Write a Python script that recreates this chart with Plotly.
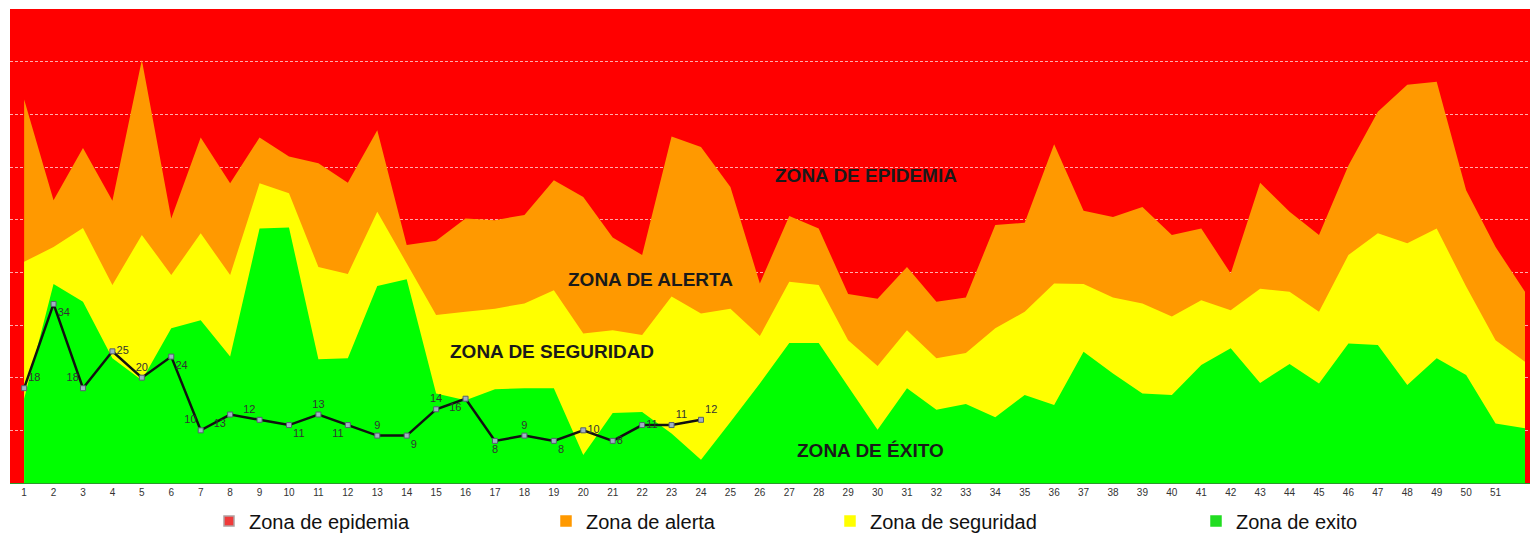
import plotly.graph_objects as go

weeks = list(range(1, 53))
week_labels = [str(w) for w in weeks]

zona_alerta = [72.8, 53.7, 63.6, 53.6, 80.3, 50.2, 65.6, 56.9, 65.6, 62.0,
               60.7, 57.0, 67.0, 45.2, 46.0, 50.2, 49.9, 50.9, 57.5, 54.3,
               46.6, 43.3, 65.8, 63.8, 56.2, 37.9, 50.7, 48.3, 35.9, 35.0,
               41.0, 34.4, 35.2, 49.0, 49.4, 64.3, 51.7, 50.5, 52.4, 47.1,
               48.3, 39.8, 57.0, 51.5, 47.1, 60.3, 70.5, 75.6, 76.2, 55.6,
               44.8, 36.3]

zona_seguridad = [42.0, 44.8, 48.4, 37.6, 47.1, 39.5, 47.4, 39.5, 56.9, 55.0,
                  41.0, 39.7, 51.5, 41.7, 31.9, 32.5, 33.1, 34.1, 36.6, 28.4,
                  29.0, 28.1, 35.4, 32.2, 33.1, 27.9, 38.2, 37.6, 27.1, 22.2,
                  29.0, 23.7, 24.7, 29.4, 32.5, 37.9, 37.8, 35.2, 34.1, 31.6,
                  34.7, 32.8, 36.9, 36.3, 32.5, 43.3, 47.4, 45.5, 48.3, 37.3,
                  27.1, 23.0]

zona_exito = [16.0, 37.8, 34.4, 23.7, 19.5, 29.4, 30.9, 24.0, 48.3, 48.5,
              23.5, 23.7, 37.4, 38.7, 17.0, 15.7, 17.8, 18.0, 18.0, 5.3,
              13.3, 13.5, 9.4, 4.4, 11.6, 18.9, 26.6, 26.6, 18.3, 10.1,
              18.0, 13.9, 15.0, 12.5, 16.7, 14.8, 24.9, 20.8, 17.0, 16.7,
              22.4, 25.6, 19.0, 22.6, 18.9, 26.5, 26.2, 18.6, 23.7, 20.5,
              11.3, 10.4]

casos_weeks = list(range(1, 25))
casos = [18, 34, 18, 25, 20, 24, 10, 13, 12, 11, 13, 11, 9, 9, 14, 16,
         8, 9, 8, 10, 8, 11, 11, 12]

y_max = 90

label_pos = ["top right", "bottom right", "top left", "middle right", "top center",
             "bottom right", "top left", "bottom left", "top left", "bottom right",
             "top center", "bottom left", "top center", "bottom right", "top center",
             "bottom left", "bottom center", "top center", "bottom right", "middle right",
             "middle right", "middle right", "top right", "top right"]

RED = "#FF0000"
ORANGE = "#FF9900"
YELLOW = "#FFFF00"
GREEN = "#00FF00"

fig = go.Figure()

fig.add_trace(go.Scatter(x=weeks, y=zona_alerta, mode="lines",
                         line=dict(width=0, color=ORANGE), fill="tozeroy",
                         fillcolor=ORANGE, showlegend=False, name="Zona de alerta"))
fig.add_trace(go.Scatter(x=weeks, y=zona_seguridad, mode="lines",
                         line=dict(width=0, color=YELLOW), fill="tozeroy",
                         fillcolor=YELLOW, showlegend=False, name="Zona de seguridad"))
fig.add_trace(go.Scatter(x=weeks, y=zona_exito, mode="lines",
                         line=dict(width=0, color=GREEN), fill="tozeroy",
                         fillcolor=GREEN, showlegend=False, name="Zona de exito"))

fig.add_trace(go.Scatter(x=casos_weeks, y=casos, mode="lines+markers+text",
                         line=dict(color="#111111", width=2.5),
                         marker=dict(symbol="square", size=5, color="#9fb0c4",
                                     line=dict(color="#55606c", width=1)),
                         text=[str(v) for v in casos], textposition=label_pos,
                         textfont=dict(family="Liberation Sans, Arial", size=11, color="#333333"),
                         showlegend=False, name="Casos"))

# legend entries
legend_items = [("Zona de epidemia", "#F03A3A", "#B0A0A0", "legend"),
                ("Zona de alerta", ORANGE, ORANGE, "legend2"),
                ("Zona de seguridad", YELLOW, YELLOW, "legend3"),
                ("Zona de exito", "#22DD22", "#22DD22", "legend4")]
for name, col, lcol, lg in legend_items:
    fig.add_trace(go.Scatter(x=[None], y=[None], mode="markers", name=name,
                             marker=dict(symbol="square", size=10, color=col,
                                         line=dict(color=lcol, width=1.5)),
                             legend=lg, showlegend=True))

# zone labels
ann_font = dict(family="Liberation Sans, Arial", size=19, color="#1a1a1a")
zone_texts = [("<b>ZONA DE EPIDEMIA</b>", 29.6, 58.4),
              ("<b>ZONA DE ALERTA</b>", 22.27, 38.7),
              ("<b>ZONA DE SEGURIDAD</b>", 18.94, 24.9),
              ("<b>ZONA DE ÉXITO</b>", 29.75, 6.1)]
for t, xx, yy in zone_texts:
    fig.add_annotation(x=xx, y=yy, text=t, showarrow=False, font=ann_font,
                       xanchor="center", yanchor="middle")

L, R, T, B = 10, 0, 9, 72
W, H = 1530, 555
plot_w = W - L - R
plot_h = H - T - B

def lx(px):
    return (px - L) / plot_w

leg_y = ((H - B) - 521) / plot_h
leg_common = dict(orientation="h", yanchor="middle", y=leg_y, xanchor="left",
                  bgcolor="rgba(0,0,0,0)", borderwidth=0,
                  font=dict(family="Liberation Sans, Arial", size=20, color="#111111"))

fig.update_layout(
    width=W, height=H,
    margin=dict(l=L, r=R, t=T, b=B, pad=0, autoexpand=False),
    paper_bgcolor="white",
    plot_bgcolor=RED,
    legend=dict(x=lx(209), **leg_common),
    legend2=dict(x=lx(546), **leg_common),
    legend3=dict(x=lx(830), **leg_common),
    legend4=dict(x=lx(1196), **leg_common),
    xaxis=dict(range=[0.52, 52.17], tickvals=weeks, ticktext=week_labels,
               tickfont=dict(family="Liberation Sans Narrow, Liberation Sans, Arial", size=10, color="#333333"),
               showgrid=False, zeroline=False, showline=True, linecolor="#2c9a2c",
               linewidth=1, ticks="", fixedrange=True, automargin=False),
    yaxis=dict(range=[0, y_max], dtick=10, showticklabels=False, showgrid=True,
               gridcolor="rgba(255,215,215,0.8)", griddash="3px,2px", gridwidth=1,
               zeroline=False, showline=False, fixedrange=True, automargin=False),
    showlegend=True,
)

page_js = ("document.documentElement.style.overflow='hidden';"
           "document.body.style.overflow='hidden';"
           "document.body.style.margin='0px';")

fig.write_html("out.html", post_script=page_js, config={"displayModeBar": False})
